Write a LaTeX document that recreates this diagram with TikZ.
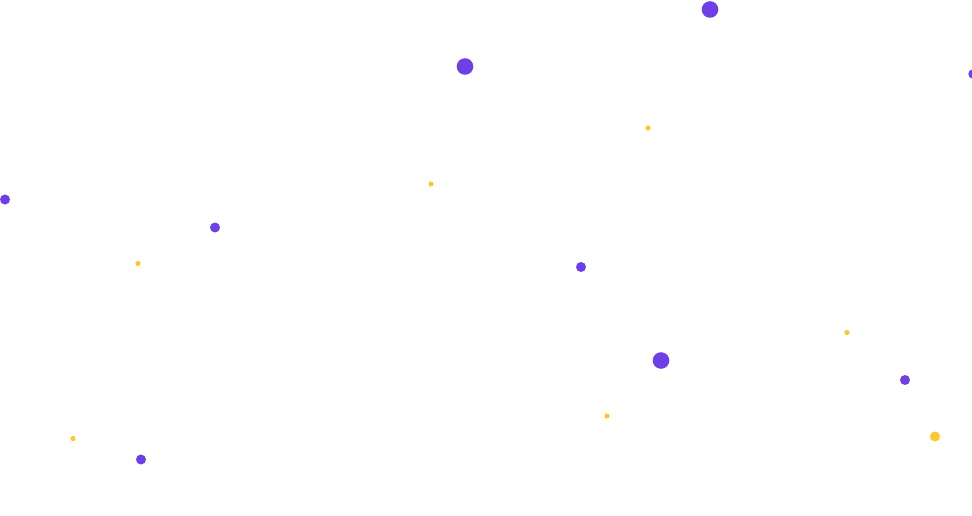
\documentclass[tikz,border=0pt]{standalone}
\usepackage{tikz}
\definecolor{dotpurple}{RGB}{108,63,232}
\definecolor{dotyellow}{RGB}{255,199,44}
\begin{document}
\begin{tikzpicture}[x=1pt, y=-1pt, purple/.style = {fill=dotpurple}, yellow/.style = {fill=dotyellow}]
            \useasboundingbox (0,0) rectangle (972,516);
            \fill[purple] (710,9.5) circle (8.3);
            \fill[purple] (465,66.5) circle (8.3);
            \fill[purple] (973,74) circle (4.7);
            \fill[purple] (5,199.5) circle (5);
            \fill[purple] (215,227.5) circle (5);
            \fill[purple] (581,267) circle (5);
            \fill[purple] (661,360.5) circle (8.3);
            \fill[purple] (905,380) circle (5);
            \fill[purple] (141,459.5) circle (5);
            \fill[yellow] (648,128) circle (2.6);
            \fill[yellow] (431,184) circle (2.6);
            \fill[yellow] (138,263.5) circle (2.6);
            \fill[yellow] (847,332.5) circle (2.6);
            \fill[yellow] (607,416) circle (2.6);
            \fill[yellow] (73,438.5) circle (2.6);
            \fill[yellow] (935,436.5) circle (5);
        \end{tikzpicture}
\end{document}
